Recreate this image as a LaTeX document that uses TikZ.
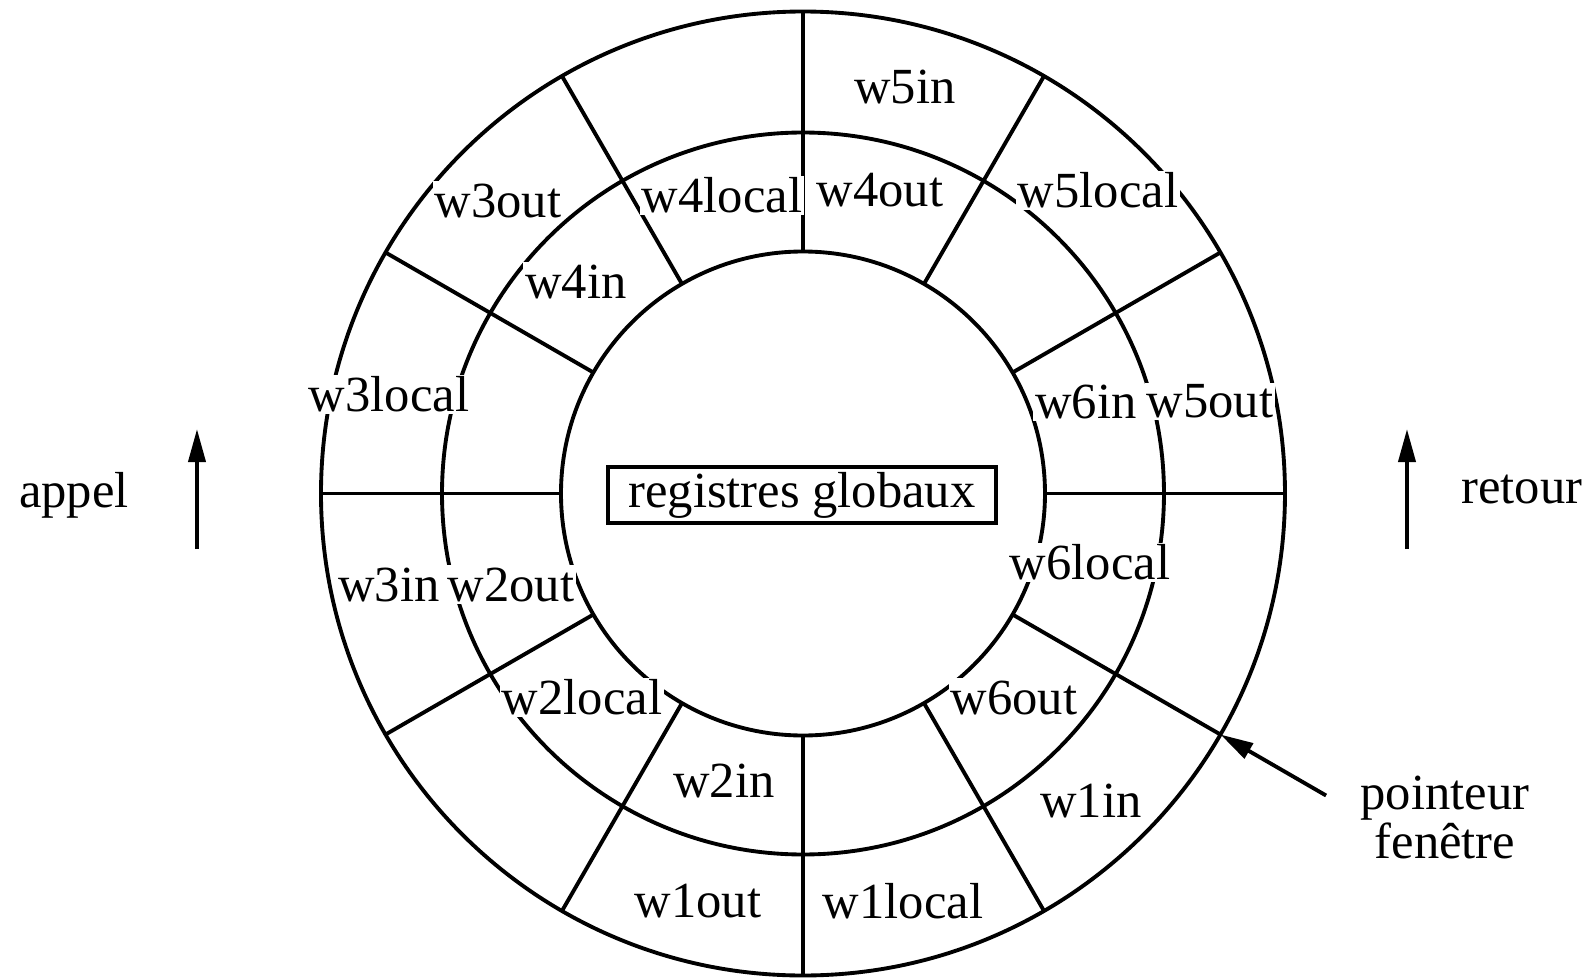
\documentclass[tikz,border=0pt]{standalone}
\usepackage{fontspec}
\setmainfont{Liberation Serif}
\usetikzlibrary{arrows.meta,positioning}

\tikzset{
  fen/.style={fill=white, inner sep=0.6pt},
  fleche/.style={-{Triangle[length=3.3mm,width=1.7mm]}},
}

\begin{document}
\begin{tikzpicture}[x=0.1mm,y=0.1mm,line width=1.1pt,
    every node/.style={font=\fontsize{14.4}{13.8}\selectfont}]
    \useasboundingbox (-803,-483.5) rectangle (791,493.5);

    % Anneaux
    \draw (0,0) circle (48.2mm);
    \draw (0,0) circle (36.1mm);
    \draw (0,0) circle (24.2mm);

    % Separations
    \draw (0:242) -- (0:482);
    \draw (30:242) -- (30:482);
    \draw (60:242) -- (60:482);
    \draw (90:242) -- (90:482);
    \draw (120:242) -- (120:482);
    \draw (150:242) -- (150:482);
    \draw (180:242) -- (180:482);
    \draw (210:242) -- (210:482);
    \draw (240:242) -- (240:482);
    \draw (270:242) -- (270:482);
    \draw (300:242) -- (300:482);
    \draw (330:242) -- (330:482);

    % Registres globaux
    \node[draw, minimum width=38.8mm, minimum height=5.6mm, inner sep=0pt] (reg) at (-1,-1.5) {registres globaux};

    % Fenetres
    \node[fen] (w5in) at (102,407) {w5in};
    \node[fen] (w4out) at (77,303) {w4out};
    \node[fen] (w4local) at (-81,298) {w4local};
    \node[fen] (w5local) at (295,303) {w5local};
    \node[fen] (w3out) at (-305,293) {w3out};
    \node[fen] (w4in) at (-227,212) {w4in};
    \node[fen] (w3local) at (-414,99) {w3local};
    \node[fen] (w6in) at (283,92) {w6in};
    \node[fen] (w5out) at (407,92) {w5out};
    \node[fen] (w3in) at (-414,-91) {w3in};
    \node[fen] (w2out) at (-292,-91) {w2out};
    \node[fen] (w6local) at (287,-69) {w6local};
    \node[fen] (w2local) at (-221,-204) {w2local};
    \node[fen] (w6out) at (211,-204) {w6out};
    \node[fen] (w2in) at (-79,-287) {w2in};
    \node[fen] (w1in) at (288,-307) {w1in};
    \node[fen] (w1out) at (-105,-408) {w1out};
    \node[fen] (w1local) at (100,-408) {w1local};

    % Appel / retour
    \node (appel) at (-729,-1.5) {appel};
    \node (retour) at (719,4) {retour};
    \coordinate (appelbas) at (-606,-55.5);
    \coordinate (appelhaut) at (-606,64.5);
    \coordinate (retourbas) at (604,-55.5);
    \coordinate (retourhaut) at (604,64.5);
    \draw[fleche] (appelbas) -- (appelhaut);
    \draw[fleche] (retourbas) -- (retourhaut);

    % Pointeur
    \node[align=center] (ptr) at (642,-324) {pointeur\\fenêtre};
    \coordinate (ptrdepart) at (330:604);
    \coordinate (ptrbout) at (330:482);
    \draw[fleche] (ptrdepart) -- (ptrbout);
\end{tikzpicture}
\end{document}
